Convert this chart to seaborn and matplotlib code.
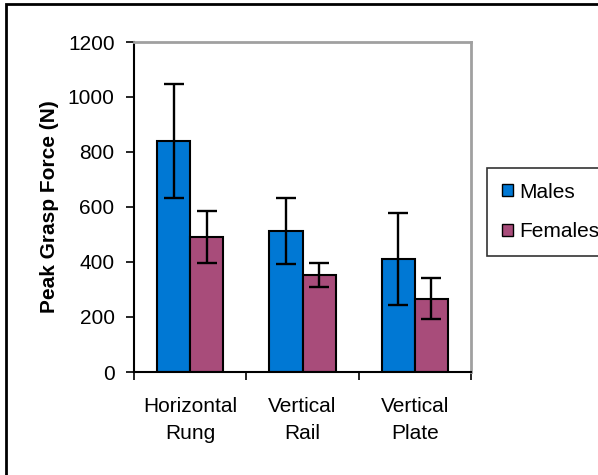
import matplotlib
matplotlib.use('Agg')
import matplotlib.pyplot as plt
import seaborn as sns
import pandas as pd
from matplotlib.patches import Rectangle

categories = ['Horizontal\nRung', 'Vertical\nRail', 'Vertical\nPlate']
groups = ['Males', 'Females']
males = [840, 513, 411]
females = [491, 353, 267]
males_err = [207, 120, 167]
females_err = [95, 43, 75]

colors = ['#0078D4', '#A84C7A']

df = pd.DataFrame({
    'cat': categories * 2,
    'sex': ['Males'] * 3 + ['Females'] * 3,
    'force': males + females,
})

sns.set_style('white')
plt.rcParams['font.family'] = ['Liberation Sans', 'DejaVu Sans']
plt.rcParams['text.color'] = 'black'
plt.rcParams['xtick.color'] = 'black'
plt.rcParams['ytick.color'] = 'black'
plt.rcParams['axes.labelcolor'] = 'black'

fig = plt.figure(figsize=(5.98, 4.75), dpi=100)
ax = fig.add_axes([134/598, 1 - 372/475, (471 - 134)/598, (372 - 42)/475])

sns.barplot(data=df, x='cat', y='force', hue='sex', hue_order=groups,
            palette=colors, saturation=1, width=0.59, edgecolor='black',
            linewidth=1.5, errorbar=None, ax=ax, legend=False)

# error bars at the bar centres
errs = males_err + females_err
vals = males + females
for p, v, e in zip(ax.patches[:6], vals, errs):
    xc = p.get_x() + p.get_width() / 2
    ax.errorbar(xc, v, yerr=e, color='black', lw=1.7, capsize=7.5, capthick=1.7)

ax.set_ylim(0, 1200)
ax.set_xlim(-0.5, 2.5)
ax.set_yticks(range(0, 1201, 200))
ax.set_xticks([-0.5, 0.5, 1.5, 2.5], minor=False)
ax.set_xticklabels(['', '', '', ''])
ax.set_xticks([0, 1, 2], minor=True)
ax.set_xticklabels(categories, minor=True, fontsize=15, linespacing=1.55)
ax.tick_params(axis='x', which='minor', length=0, pad=18)
ax.tick_params(axis='x', which='major', length=6, width=1.2, direction='out', bottom=True)
ax.tick_params(axis='y', length=6, width=1.2, direction='out', left=True, labelsize=15, pad=8)
ax.set_xlabel('')
ax.set_ylabel('Peak Grasp Force (N)', fontsize=15, fontweight='bold', labelpad=6)

for s in ['left', 'bottom']:
    ax.spines[s].set_color('black')
    ax.spines[s].set_linewidth(1.5)
for s in ['top', 'right']:
    ax.spines[s].set_color('#A0A0A0')
    ax.spines[s].set_linewidth(2)

handles = [Rectangle((0, 0), 1, 1, facecolor=c, edgecolor='black', lw=1) for c in colors]
leg = fig.legend(handles, groups, loc='upper left', bbox_to_anchor=(487/598, 1 - 168/475),
                 frameon=True, fancybox=False, edgecolor='black', fontsize=15,
                 handlelength=0.55, handleheight=0.55, handletextpad=0.3,
                 labelspacing=1.0, borderpad=0.7, borderaxespad=0)
leg.get_frame().set_linewidth(1.2)

# outer chart border
fig.patches.append(Rectangle((6/598, -0.1), 1.2, 1 - 4/475 + 0.1, transform=fig.transFigure,
                             fill=False, edgecolor='black', lw=2))

fig.savefig('out.png', dpi=100)
